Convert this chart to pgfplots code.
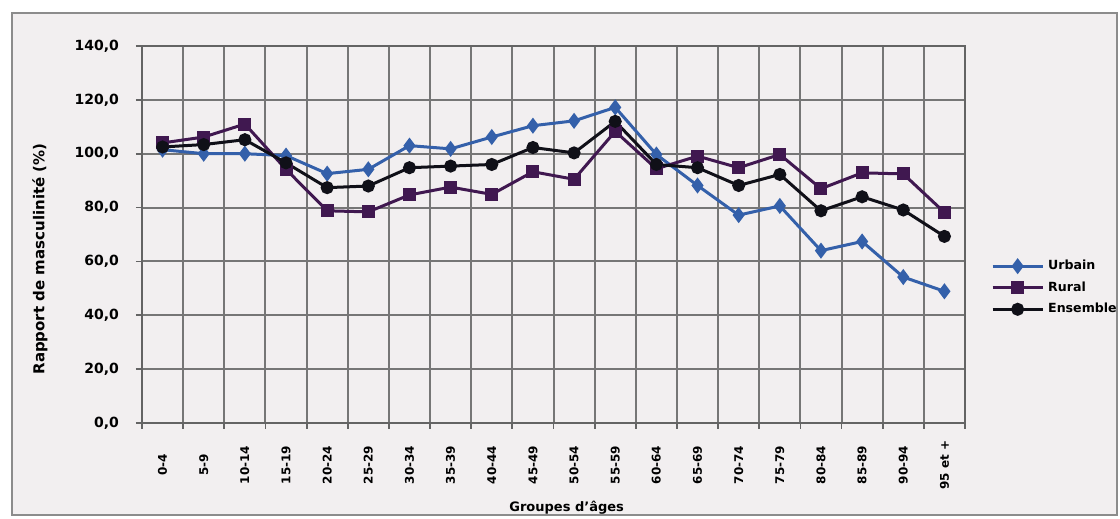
\documentclass[border=0pt]{standalone}
\usepackage{fontspec}
\setmainfont{DejaVu Sans}
\usepackage{pgfplots}
\usepackage{pgfplotstable}
\pgfplotsset{compat=1.18}

\definecolor{urb}{RGB}{52,96,170}
\definecolor{rur}{RGB}{64,24,80}
\definecolor{ens}{RGB}{16,16,24}
\definecolor{bg}{RGB}{242,239,240}
\definecolor{gridc}{RGB}{118,118,118}
\definecolor{framec}{RGB}{140,140,140}

% rapport de masculinite par groupe d'ages
\pgfplotstableread{
x  urb   rur   ens
0  101.5 104.0 102.5
1  100.0 106.2 103.4
2  100.0 111.0 105.2
3  99.3  94.2  96.6
4  92.6  78.8  87.4
5  94.2  78.4  88.0
6  103.0 84.7  94.8
7  101.8 87.6  95.4
8  106.2 84.9  96.0
9  110.4 93.3  102.3
10 112.2 90.5  100.3
11 117.2 108.3 112.0
12 99.7  94.4  96.0
13 88.2  99.1  94.8
14 77.2  94.8  88.2
15 80.6  99.7  92.3
16 64.0  87.0  78.8
17 67.4  92.9  84.0
18 54.2  92.5  79.1
19 48.9  78.2  69.3
}\data

\begin{document}
\begin{tikzpicture}[x=1pt,y=1pt]
\useasboundingbox (0,0) rectangle (560,259.5);
\draw[draw=framec, line width=1pt, fill=bg] (6,2) rectangle (558.5,253);
\begin{axis}[
    at={(71pt,48pt)}, anchor=south west,
    scale only axis,
    width=411.5pt, height=188.5pt,
    xmin=-0.5, xmax=19.5,
    ymin=0, ymax=140,
    xtick={-0.5,0.5,1.5,2.5,3.5,4.5,5.5,6.5,7.5,8.5,9.5,10.5,11.5,12.5,13.5,14.5,15.5,16.5,17.5,18.5,19.5},
    xticklabels={},
    extra x ticks={0,1,2,3,4,5,6,7,8,9,10,11,12,13,14,15,16,17,18,19},
    extra x tick labels={0-4,5-9,10-14,15-19,20-24,25-29,30-34,35-39,40-44,45-49,50-54,55-59,60-64,65-69,70-74,75-79,80-84,85-89,90-94,95 et +},
    extra x tick style={major tick length=0pt, grid=none},
    ytick={0,20,...,140},
    grid=major,
    grid style={gridc, line width=1pt},
    axis line style={gridc!85!black, line width=1pt},
    tick style={gridc!85!black, line width=0.9pt},
    tick align=outside,
    major tick length=3pt,
    xtick pos=bottom, ytick pos=left,
    axis background/.style={fill=bg},
    /pgf/number format/.cd, fixed, fixed zerofill, precision=1, use comma, assume math mode=true,
    /pgfplots/.cd,
    yticklabel style={font=\fontsize{7}{8}\selectfont\bfseries, anchor=east, xshift=-5pt},
    xticklabel style={font=\fontsize{6}{7}\selectfont\bfseries, yshift=-21pt, rotate=90, anchor=center},
    xlabel={Groupes d'âges},
    ylabel={Rapport de masculinité (\%)},
    xlabel style={font=\fontsize{6.5}{7.5}\selectfont\bfseries, at={(axis description cs:0.516,-0.225)}, anchor=center},
    ylabel style={font=\fontsize{7.5}{8.5}\selectfont\bfseries, at={(axis description cs:-0.124,0.435)}, anchor=center},
    legend style={at={(axis description cs:1.024,0.455)}, anchor=north west,
        draw=none, fill=none, font=\fontsize{6.3}{7}\selectfont\bfseries,
        row sep=0.5pt, cells={anchor=west}},
    legend image code/.code={\draw[mark repeat=2,mark phase=2] plot coordinates {(0pt,0pt) (12.5pt,0pt) (25pt,0pt)};},
    every axis plot/.append style={line width=1.5pt},
]
\addplot[color=urb, mark=diamond*, mark size=2.8pt] table[x=x, y=urb] {\data};
\addplot[color=rur, mark=square*, mark size=2.5pt] table[x=x, y=rur] {\data};
\addplot[color=ens, mark=*, mark size=2.5pt] table[x=x, y=ens] {\data};
\legend{Urbain, Rural, Ensemble}
\end{axis}
\end{tikzpicture}
\end{document}
